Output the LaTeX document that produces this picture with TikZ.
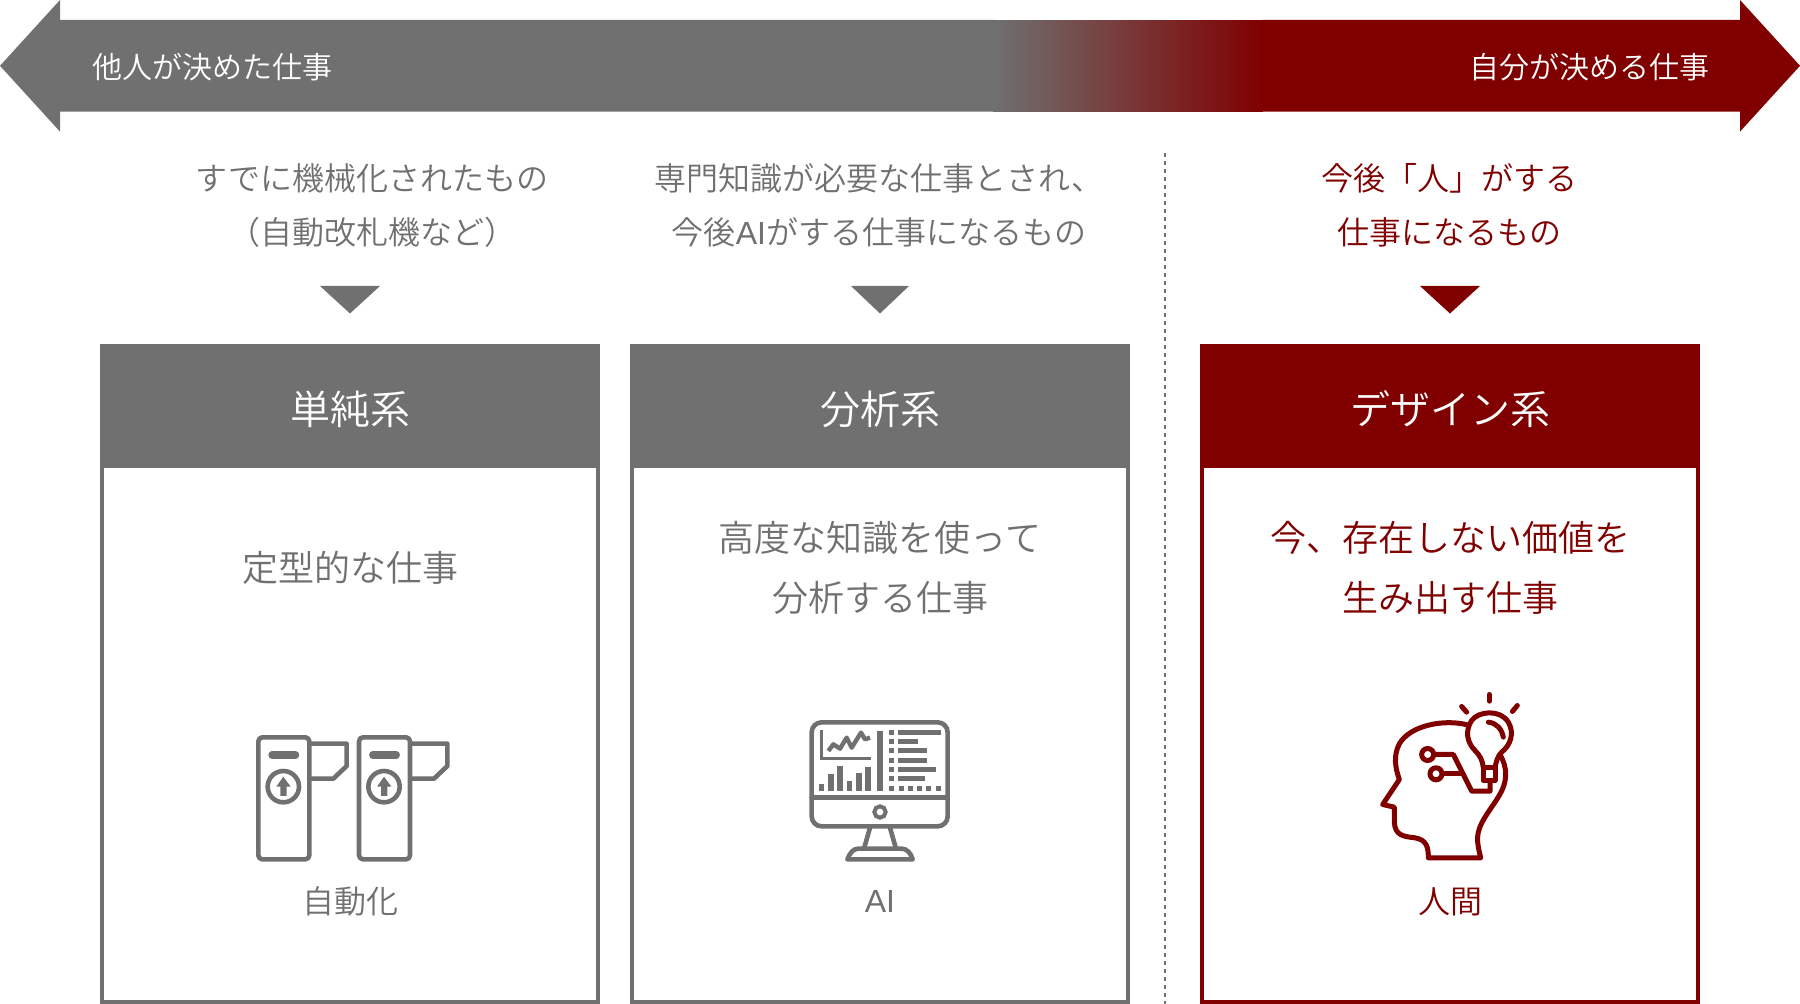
\documentclass[tikz,border=0pt]{standalone}
\usepackage{fontspec}
\setmainfont{Noto Sans CJK JP DemiLight}
\newfontfamily\latinfont{Liberation Sans}
\usepackage{tikz}
\definecolor{mygray}{HTML}{707070}
\definecolor{myred}{HTML}{800000}
\tikzset{
  bartext/.style={white,font=\fontsize{15}{15}\selectfont},
  desc/.style={align=center,font=\fontsize{16}{27}\selectfont},
  headtext/.style={white,font=\fontsize{20}{20}\selectfont},
  bodytext/.style={align=center,font=\fontsize{18}{30}\selectfont},
  icontext/.style={font=\fontsize{16}{16}\selectfont},
  iconline/.style={line width=2.3pt,line join=round,line cap=round},
  headline/.style={iconline,myred,line width=2.5pt},
  boxline/.style={line width=2pt},
}
\begin{document}
\begin{tikzpicture}[x=0.5pt,y=-0.5pt]
  \useasboundingbox (0,0) rectangle (1800,1004);
  % top bar
  \shade[left color=mygray,right color=myred] (993,10) rectangle (1263,122);
  \fill[white] (980,0) rectangle (1280,20);
  \fill[white] (980,111.7) rectangle (1280,131.6);
  \fill[mygray] (0,65.8)--(60,0)--(60,20)--(994,20)--(994,111.7)--(60,111.7)--(60,131.6)--cycle;
  \fill[myred] (1262,20)--(1740,20)--(1740,0)--(1800,65.8)--(1740,131.6)--(1740,111.7)--(1262,111.7)--cycle;
  \node[bartext] (barleft) at (212,67) {他人が決めた仕事};
  \node[bartext] (barright) at (1589,67) {自分が決める仕事};
  % separator
  \draw[mygray,line width=1pt,dash pattern=on 2pt off 2pt] (1165,153)--(1165,1004);
  % descriptions
  \node[desc,mygray] (descsimple) at (372,205.5) {すでに機械化されたもの\\（自動改札機など）};
  \node[desc,mygray] (descanalysis) at (879,205.5) {専門知識が必要な仕事とされ、\\今後{\latinfont AI}がする仕事になるもの};
  \node[desc,myred] (descdesign) at (1449,205.5) {今後「人」がする\\仕事になるもの};
  \fill[mygray] (320,286)--(380,286)--(350,313.5)--cycle;
  \fill[mygray] (851,286)--(909,286)--(880,313.5)--cycle;
  \fill[myred] (1420,286)--(1480,286)--(1450,313.5)--cycle;
  % boxes
  \fill[mygray] (100,344) rectangle (600,468);
  \fill[mygray] (630,344) rectangle (1130,468);
  \fill[myred] (1200,344) rectangle (1700,468);
  \draw[boxline,mygray] (102,460)--(102,1002)--(598,1002)--(598,460);
  \draw[boxline,mygray] (632,460)--(632,1002)--(1128,1002)--(1128,460);
  \draw[boxline,myred] (1202,460)--(1202,1002)--(1698,1002)--(1698,460);
  \node[headtext] (headsimple) at (350,409.5) {単純系};
  \node[headtext] (headanalysis) at (880,409.5) {分析系};
  \node[headtext] (headdesign) at (1450,409.5) {デザイン系};
  \node[bodytext,mygray] (bodysimple) at (350,567.5) {定型的な仕事};
  \node[bodytext,mygray] (bodyanalysis) at (880,567.5) {高度な知識を使って\\分析する仕事};
  \node[bodytext,myred] (bodydesign) at (1450,567.5) {今、存在しない価値を\\生み出す仕事};
  \node[icontext,mygray] (labelsimple) at (350,901.5) {自動化};
  \node[icontext,mygray] (labelanalysis) at (880,901.5) {\latinfont AI};
  \node[icontext,myred] (labeldesign) at (1450,901.5) {人間};
  % gates
  \foreach \dx in {0,100.7} {
    \begin{scope}[shift={(230+\dx,711)},scale=1/3]
      \draw[iconline,mygray,rounded corners=2pt] (85,79) rectangle (238,445);
      \draw[iconline,mygray] (240,98)--(350,98)--(350,165)--(310,203)--(240,203);
      \draw[mygray,line width=3.6pt,line cap=round] (126,132)--(197,132);
      \draw[iconline,mygray] (160,227) circle (47);
      \fill[mygray] (160,197)--(182,227)--(170,227)--(170,255)--(151,255)--(151,227)--(139,227)--cycle;
    \end{scope}
  }
  % monitor
  \begin{scope}[shift={(790,706)},scale=1/3]
    \draw[iconline,mygray,rounded corners=5pt] (65,49) rectangle (473,361);
    \draw[iconline,mygray] (65,275)--(473,275);
    \draw[mygray,line width=2pt] (270,318) circle (17);
    \draw[iconline,mygray] (240,365)--(222,428);
    \draw[iconline,mygray] (300,365)--(318,428);
    \draw[iconline,mygray] (172,460) .. controls (180,440) and (190,428) .. (205,428)--(335,428) .. controls (350,428) and (362,440) .. (368,460)--cycle;
    \draw[mygray,line width=1.8pt] (95,72)--(95,157)--(243,157);
    \draw[mygray,line width=2.2pt,line join=round] (115,135)--(130,115)--(150,128)--(170,95)--(185,125)--(213,80)--(225,100)--(240,95);
    \draw[mygray,line width=3pt] (270,75)--(270,255);
    \foreach \bx/\by in {95/235,123/205,150/180,178/225,207/200,234/183} {
      \fill[mygray] (\bx-8,\by) rectangle (\bx+8,255);
    }
    \foreach \ry/\rx in {80/452,107/385,135/410,163/410,191/438,219/405} {
      \fill[mygray] (298,\ry-7.5) rectangle (313,\ry+7.5);
      \fill[mygray] (323,\ry-7.5) rectangle (\rx,\ry+7.5);
    }
    \foreach \sx in {298,326,354,381,409,437} {
      \fill[mygray] (\sx,240) rectangle (\sx+15,255);
    }
  \end{scope}
  % head
  \begin{scope}[shift={(1360,680.5)},scale=1/3]
    \draw[headline] (322,133) .. controls (250,115) and (150,135) .. (118,190) .. controls (100,225) and (105,260) .. (118,297)--(68,372)--(103,380)--(103,425) .. controls (105,465) and (130,468) .. (165,472) .. controls (200,478) and (205,500) .. (205,532)--(362,532) .. controls (350,480) and (345,460) .. (375,410) .. controls (410,355) and (435,330) .. (437,285) .. controls (438,260) and (430,240) .. (420,222);
    \draw[headline] (370,262) .. controls (368,240) and (360,225) .. (345,210) .. controls (320,185) and (315,150) .. (335,120) .. controls (355,92) and (420,85) .. (445,125) .. controls (465,160) and (450,195) .. (425,215) .. controls (412,228) and (408,245) .. (405,262);
    \draw[headline] (370,262) rectangle (405,300);
    \draw[headline] (385,125) .. controls (410,128) and (425,145) .. (430,170);
    \draw[headline] (305,78)--(320,95);
    \draw[headline] (388,42)--(388,62);
    \draw[headline] (472,75)--(457,93);
    \draw[headline] (203,222) circle (18);
    \draw[headline] (228,280) circle (18);
    \draw[headline] (222,222)--(280,222)--(335,332)--(390,332)--(390,300);
    \draw[headline] (247,280)--(305,280);
  \end{scope}
\end{tikzpicture}
\end{document}
